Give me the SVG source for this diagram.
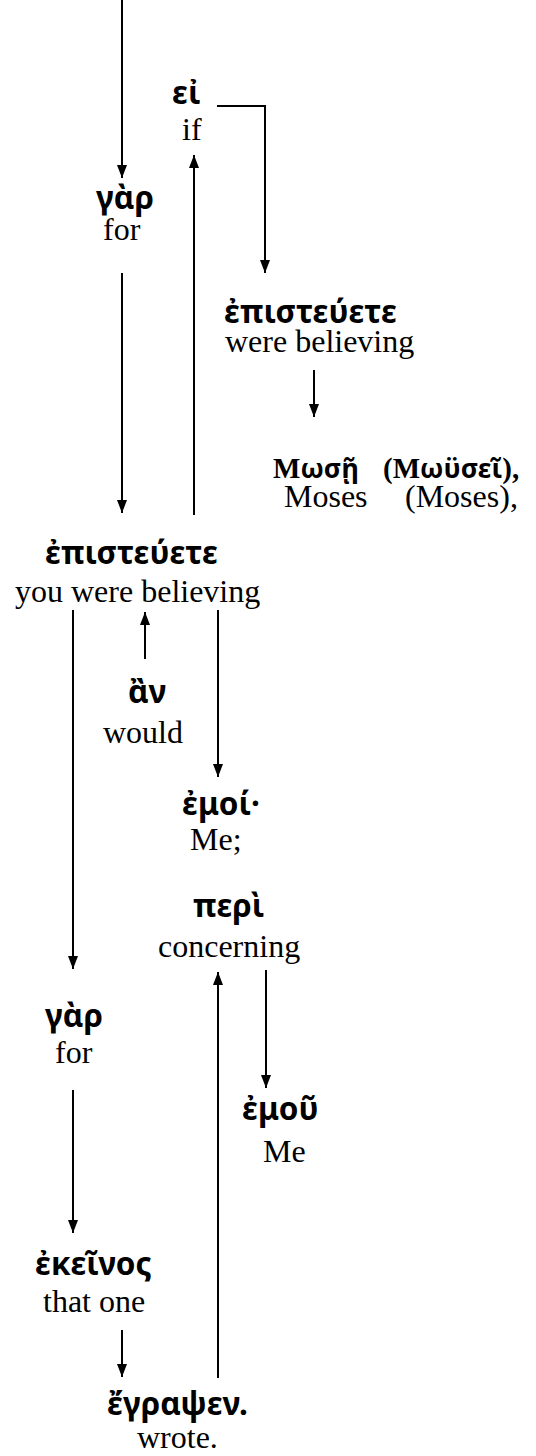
<svg xmlns="http://www.w3.org/2000/svg" width="536" height="1456" viewBox="0 0 536 1456">
<style>
.gk{font-family:"Noto Sans","DejaVu Sans",sans-serif;font-weight:bold;font-size:31.5px;fill:#000}
.gs{font-family:"Liberation Serif","DejaVu Serif",serif;font-weight:bold;font-size:29px;fill:#000}
.gl{font-family:"Noto Sans","DejaVu Sans",sans-serif;font-weight:bold;font-size:27px}
.en{font-family:"Liberation Serif","Times New Roman",serif;font-size:32px;fill:#000}
.c{stroke:#000;stroke-width:2;fill:none}
</style>
<defs>
<marker id="ah" markerUnits="userSpaceOnUse" markerWidth="13" markerHeight="10" viewBox="0 0 13 10" refX="13" refY="5" orient="auto">
<path d="M0,0 L13,5 L0,10 Z" fill="#000"/>
</marker>
</defs>
<rect width="536" height="1456" fill="#fff"/>
<g id="connectors">
<line class="c" x1="122" y1="0" x2="122" y2="178" marker-end="url(#ah)"/>
<line class="c" x1="122" y1="273" x2="122" y2="513" marker-end="url(#ah)"/>
<polyline class="c" points="217,106 265,106 265,273" marker-end="url(#ah)"/>
<line class="c" x1="194" y1="515" x2="194" y2="155" marker-end="url(#ah)"/>
<line class="c" x1="314" y1="370" x2="314" y2="417" marker-end="url(#ah)"/>
<line class="c" x1="73" y1="610" x2="73" y2="969" marker-end="url(#ah)"/>
<line class="c" x1="145" y1="659" x2="145" y2="612" marker-end="url(#ah)"/>
<line class="c" x1="218" y1="610" x2="218" y2="777" marker-end="url(#ah)"/>
<line class="c" x1="218" y1="1378" x2="218" y2="972" marker-end="url(#ah)"/>
<line class="c" x1="266" y1="970" x2="266" y2="1088" marker-end="url(#ah)"/>
<line class="c" x1="73" y1="1090" x2="73" y2="1233" marker-end="url(#ah)"/>
<line class="c" x1="122" y1="1330" x2="122" y2="1377" marker-end="url(#ah)"/>
</g>
<g id="n-gar1"><text class="gk" x="96" y="209">γὰρ</text><text class="en" x="103" y="240">for</text></g>
<g id="n-ei"><text class="gk" x="172" y="104">εἰ</text><text class="en" x="182" y="140">if</text></g>
<g id="n-episteuete1"><text class="gk" x="224" y="323">ἐπιστεύετε</text><text class="en" x="225" y="352">were believing</text></g>
<g id="n-mose"><text class="gs" x="273" y="478">Μ<tspan class="gl">ωσῇ</tspan></text><text class="gs" x="383" y="478">(Μ<tspan class="gl">ωϋσεῖ</tspan>),</text><text class="en" x="284" y="507">Moses</text><text class="en" x="405" y="507">(Moses),</text></g>
<g id="n-episteuete2"><text class="gk" x="45" y="564">ἐπιστεύετε</text><text class="en" x="15" y="602">you were believing</text></g>
<g id="n-an"><text class="gk" x="128" y="703">ἂν</text><text class="en" x="103" y="743">would</text></g>
<g id="n-emoi"><text class="gk" x="182" y="815">ἐμοί·</text><text class="en" x="190" y="850">Me;</text></g>
<g id="n-peri"><text class="gk" x="193" y="917">περὶ</text><text class="en" x="158" y="957">concerning</text></g>
<g id="n-gar2"><text class="gk" x="45" y="1027">γὰρ</text><text class="en" x="55" y="1063">for</text></g>
<g id="n-emou"><text class="gk" x="242" y="1120">ἐμοῦ</text><text class="en" x="263" y="1162">Me</text></g>
<g id="n-ekeinos"><text class="gk" x="35" y="1275">ἐκεῖνος</text><text class="en" x="43" y="1312">that one</text></g>
<g id="n-egrapsen"><text class="gk" x="107" y="1415">ἔγραψεν.</text><text class="en" x="137" y="1448">wrote.</text></g>
</svg>
